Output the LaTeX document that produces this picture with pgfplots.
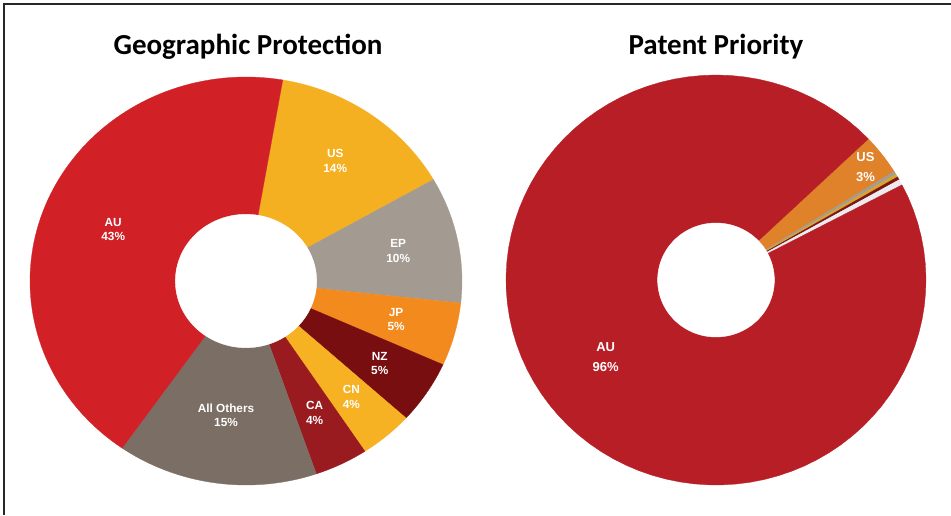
\documentclass[border=0pt]{standalone}
\usepackage{pgfplots}
\pgfplotsset{compat=1.18}
\usepackage{pgfplotstable}
\usepackage{fontspec}
\setmainfont{Liberation Sans}
\newfontfamily\titlefont{Carlito}

% left chart colours
\definecolor{auL}{HTML}{D12127}
\definecolor{usL}{HTML}{F4B020}
\definecolor{epL}{HTML}{A39A92}
\definecolor{jpL}{HTML}{F28A1E}
\definecolor{nzL}{HTML}{780E10}
\definecolor{cnL}{HTML}{F6B222}
\definecolor{caL}{HTML}{9A1B1F}
\definecolor{othL}{HTML}{7A6E65}
% right chart colours
\definecolor{auR}{HTML}{B71E25}
\definecolor{usR}{HTML}{E0822A}
\definecolor{grayR}{HTML}{A09C98}
\definecolor{goldR}{HTML}{D8A42A}
\definecolor{darkR}{HTML}{7E1414}
\definecolor{whiteR}{HTML}{ECECF0}

% shares in clockwise order, starting at the top boundary
\pgfplotstableread[col sep=comma]{
share,pct,color,name,r,lab
14,14,usL,US,0.72,1
10,10,epL,EP,0.72,1
5,5,jpL,JP,0.72,1
5,5,nzL,NZ,0.74,1
4,4,cnL,CN,0.75,1
4,4,caL,CA,0.72,1
15,15,othL,All Others,0.665,1
43,43,auL,AU,0.665,1
}\geotable

\pgfplotstableread[col sep=comma]{
share,pct,color,name,r,lab
3.2,3,usR,US,0.9,1
0.25,0,grayR,x,0.9,0
0.25,0,goldR,x,0.9,0
0.25,0,darkR,x,0.9,0
0.45,0,whiteR,x,0.9,0
95.6,96,auR,AU,0.646,1
}\priotable

% #1 table, #2 start angle, #3 hole radius, #4 label font
\newcommand\donut[4]{%
  \pgfplotstablegetrowsof{#1}%
  \pgfmathtruncatemacro\nrows{\pgfplotsretval-1}%
  \xdef\curang{#2}%
  \pgfplotsforeachungrouped \i in {0,...,\nrows}{%
    \pgfplotstablegetelem{\i}{share}\of{#1}\let\segval\pgfplotsretval
    \pgfplotstablegetelem{\i}{color}\of{#1}\let\segcol\pgfplotsretval
    \pgfmathsetmacro\endang{\curang-3.6*\segval}%
    \edef\temp{\noexpand\addplot[fill=\segcol, draw=\segcol, line width=0.3pt,
      domain=\endang:\curang, samples=90, variable=\noexpand\t]
      ({cos(\noexpand\t)},{sin(\noexpand\t)}) -- (axis cs:0,0) -- cycle;}%
    \temp
    \xdef\curang{\endang}%
  }%
  \addplot[fill=white, draw=white, domain=0:360, samples=120, variable=\t]
    ({#3*cos(\t)},{#3*sin(\t)}) -- cycle;
  \xdef\curang{#2}%
  \pgfplotsforeachungrouped \i in {0,...,\nrows}{%
    \pgfplotstablegetelem{\i}{share}\of{#1}\let\segval\pgfplotsretval
    \pgfplotstablegetelem{\i}{pct}\of{#1}\let\segpct\pgfplotsretval
    \pgfplotstablegetelem{\i}{name}\of{#1}\let\segname\pgfplotsretval
    \pgfplotstablegetelem{\i}{r}\of{#1}\let\segr\pgfplotsretval
    \pgfplotstablegetelem{\i}{lab}\of{#1}\let\seglab\pgfplotsretval
    \pgfmathsetmacro\endang{\curang-3.6*\segval}%
    \pgfmathsetmacro\midang{(\curang+\endang)/2}%
    \pgfmathsetmacro\lx{\segr*cos(\midang)}%
    \pgfmathsetmacro\ly{\segr*sin(\midang)}%
    \ifnum\seglab=1
      \edef\temp{\noexpand\node[text=white, align=center, font=\noexpand#4]
        at (axis cs:\lx,\ly) {\segname\noexpand\\\segpct\noexpand\%};}%
      \temp
    \fi
    \xdef\curang{\endang}%
  }%
}

\newcommand\leftfont{\bfseries\fontsize{11.8}{14.5}\selectfont}
\newcommand\rightfont{\bfseries\fontsize{13}{20}\selectfont}

\begin{document}
\begin{tikzpicture}
  \useasboundingbox (0,0) rectangle (951pt,515pt);
  \draw[line width=1.6pt, black!85] (4pt,0) -- (4pt,511pt) -- (951pt,511pt);

  \node[font=\titlefont\bfseries\fontsize{29}{34}\selectfont, anchor=base]
    at (248pt,460pt) {Geographic Protection};
  \node[font=\titlefont\bfseries\fontsize{29}{34}\selectfont, anchor=base]
    at (716pt,460pt) {Patent Priority};

  \begin{axis}[
    at={(246pt,234pt)}, anchor=center,
    x=216pt, y=204pt,
    xmin=-1, xmax=1, ymin=-1, ymax=1,
    hide axis, clip=false
    ]
    \donut{\geotable}{80.2}{0.327}{\leftfont}
  \end{axis}

  \begin{axis}[
    at={(716pt,235pt)}, anchor=center,
    x=210pt, y=205pt,
    xmin=-1, xmax=1, ymin=-1, ymax=1,
    hide axis, clip=false
    ]
    \donut{\priotable}{43.5}{0.278}{\rightfont}
  \end{axis}
\end{tikzpicture}
\end{document}
